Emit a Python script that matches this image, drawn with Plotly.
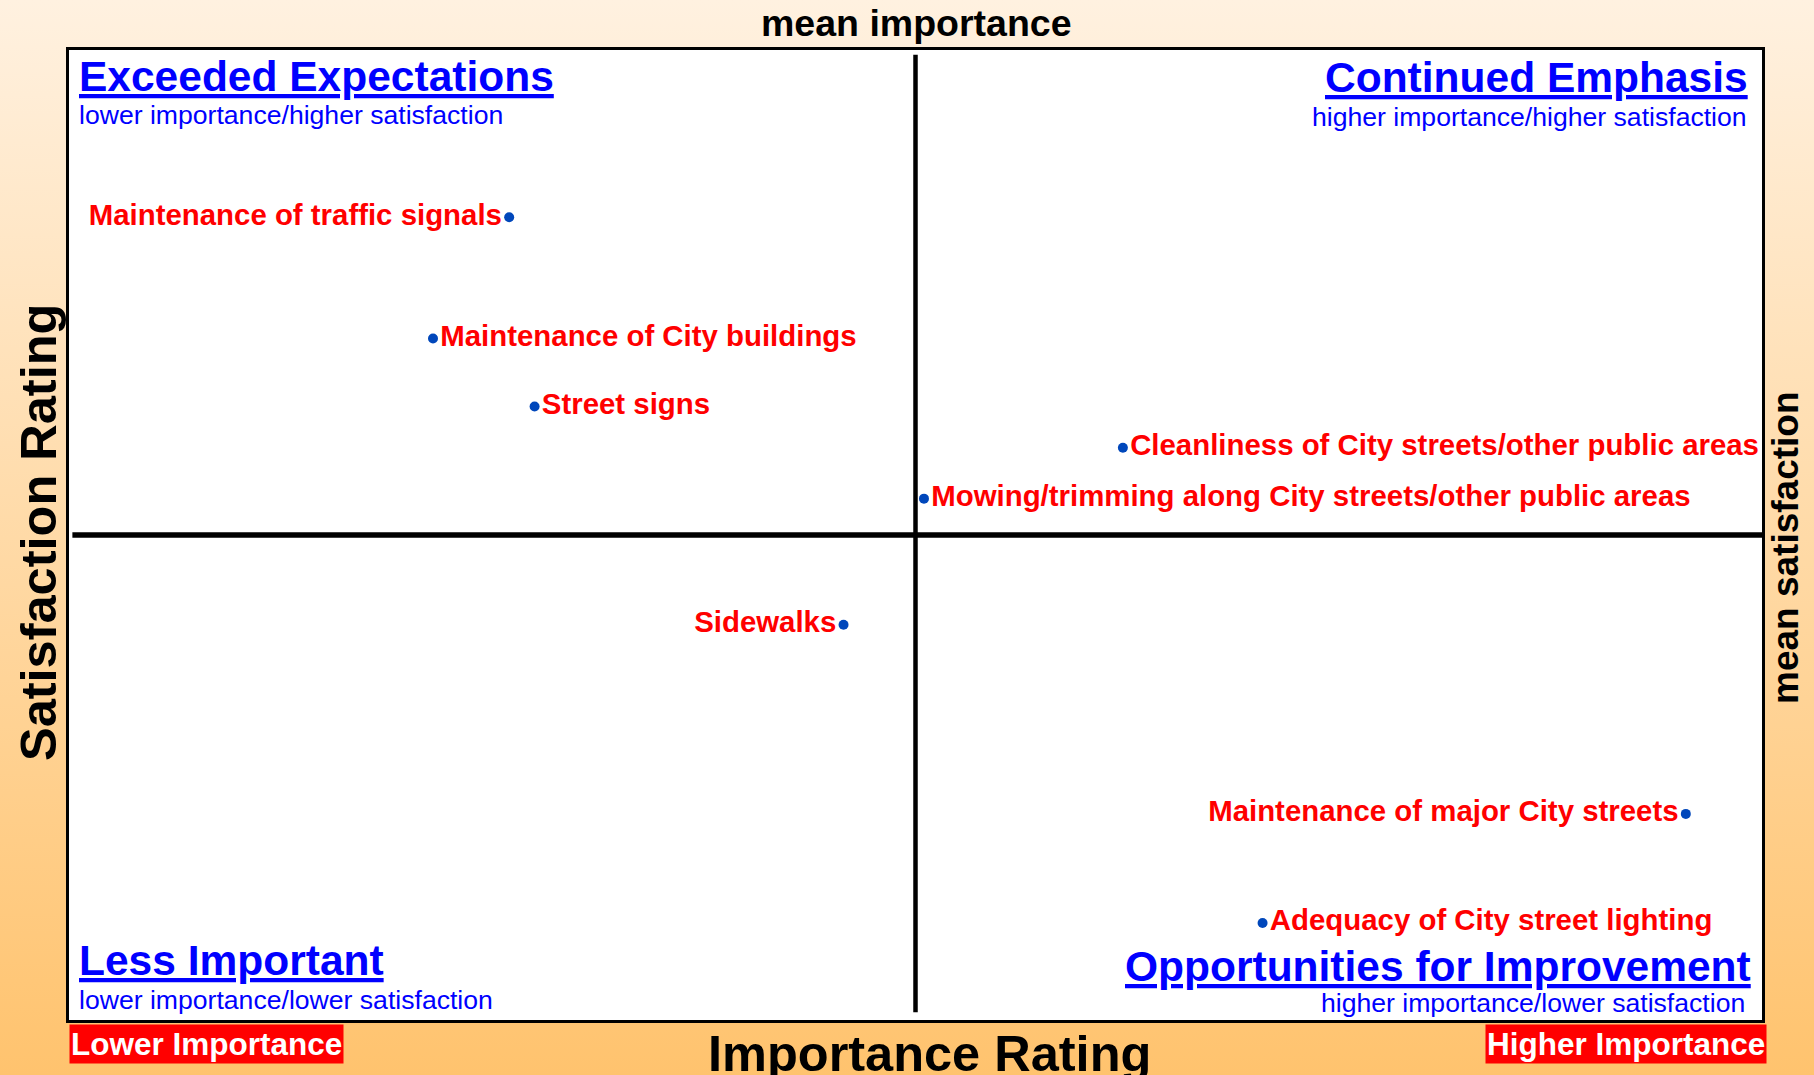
import base64
import plotly.graph_objects as go

# importance (%) vs satisfaction (%) for each service
SERVICES = [
    "Maintenance of traffic signals",
    "Maintenance of City buildings",
    "Street signs",
    "Cleanliness of City streets/other public areas",
    "Mowing/trimming along City streets/other public areas",
    "Sidewalks",
    "Maintenance of major City streets",
    "Adequacy of City street lighting",
]
IMPORTANCE = [15.4, 13.6, 16.0, 29.9, 25.2, 23.3, 43.2, 33.2]
SATISFACTION = [73.1, 68.1, 65.3, 63.6, 61.5, 56.3, 48.5, 44.0]

MEAN_IMPORTANCE = 25.0
MEAN_SATISFACTION = 60.0
X_RANGE = [5, 45]
Y_RANGE = [40, 80]

# label placement relative to the dot
LABEL_SIDE = ["middle left", "middle right", "middle right", "middle right",
              "middle right", "middle left", "middle left", "middle right"]

FONT = "Liberation Sans, Arial, sans-serif"
W, H = 1814, 1075
M = dict(l=69, r=52, t=50, b=55)

# gradient page background as an svg image
svg = (
    f'<svg xmlns="http://www.w3.org/2000/svg" width="{W}" height="{H}" '
    f'preserveAspectRatio="none"><defs><linearGradient id="g" x1="0" y1="0" x2="0" y2="1">'
    '<stop offset="0" stop-color="#FFF1E0"/><stop offset="1" stop-color="#FFC36E"/>'
    f'</linearGradient></defs><rect width="{W}" height="{H}" fill="url(#g)"/></svg>'
)
bg_src = "data:image/svg+xml;base64," + base64.b64encode(svg.encode()).decode()

pw = W - M["l"] - M["r"]
ph = H - M["t"] - M["b"]

fig = go.Figure()
fig.add_trace(go.Scatter(
    x=IMPORTANCE, y=SATISFACTION, text=SERVICES,
    mode="markers+text", textposition=LABEL_SIDE,
    marker=dict(color="#0047BB", size=10),
    textfont=dict(family=FONT, size=29.4, color="#FF0000", weight="bold"),
    cliponaxis=False, hoverinfo="text", showlegend=False,
))

# white plot area on top of the gradient
fig.add_shape(type="rect", xref="paper", yref="paper", x0=0, x1=1, y0=0, y1=1,
              fillcolor="white", line_width=0, layer="below")
fig.add_shape(type="line", xref="x", yref="paper", x0=MEAN_IMPORTANCE, x1=MEAN_IMPORTANCE,
              y0=0.008, y1=0.995, line=dict(color="black", width=4.5))
fig.add_shape(type="line", xref="paper", yref="y", x0=0.002, x1=1, y0=MEAN_SATISFACTION,
              y1=MEAN_SATISFACTION, line=dict(color="black", width=5.5))


def px_x(v):
    return (v - M["l"]) / pw


def px_y(v):
    return (H - M["b"] - v) / ph


def note(text, x, y, size, color="black", xanchor="center", angle=0, bold=True, **kw):
    fig.add_annotation(
        text=text, x=px_x(x), y=px_y(y), xref="paper", yref="paper",
        xanchor=xanchor, yanchor="middle", showarrow=False, textangle=angle,
        font=dict(family=FONT, size=size, color=color, weight="bold" if bold else "normal"),
        **kw,
    )


note("mean importance", 917, 23, 37.5)
note("Importance Rating", 930, 1053, 50.5)
note("Satisfaction Rating", 38, 533, 50.5, angle=-90)
note("mean satisfaction", 1785, 548, 37, angle=-90)
note("Lower Importance", 69, 1044, 31.5, color="white", xanchor="left", bgcolor="#FF0000", borderpad=1)
note("Higher Importance", 1767, 1044, 31.5, color="white", xanchor="right", bgcolor="#FF0000", borderpad=1)

BLUE = "#0000FF"
note("<u>Exceeded Expectations</u>", 77, 76, 42.5, BLUE, "left")
note("lower importance/higher satisfaction", 77, 115, 26.6, BLUE, "left", bold=False)
note("<u>Continued Emphasis</u>", 1750, 77, 42.5, BLUE, "right")
note("higher importance/higher satisfaction", 1749, 117, 26.6, BLUE, "right", bold=False)
note("<u>Less Important</u>", 77, 960, 42.5, BLUE, "left")
note("lower importance/lower satisfaction", 77, 1000, 26.6, BLUE, "left", bold=False)
note("<u>Opportunities for Improvement</u>", 1753, 966, 42.5, BLUE, "right")
note("higher importance/lower satisfaction", 1747, 1003, 26.6, BLUE, "right", bold=False)

fig.add_layout_image(dict(
    source=bg_src, xref="paper", yref="paper", x=-M["l"] / pw, y=1 + M["t"] / ph,
    sizex=W / pw, sizey=H / ph, xanchor="left", yanchor="top",
    sizing="stretch", layer="below",
))

axis = dict(showgrid=False, zeroline=False, showticklabels=False, ticks="",
            showline=True, mirror=True, linecolor="black", linewidth=3, fixedrange=True)
fig.update_xaxes(range=X_RANGE, **axis)
fig.update_yaxes(range=Y_RANGE, **axis)
fig.update_layout(
    width=W, height=H, margin=M,
    paper_bgcolor="#FFD9A8", plot_bgcolor="white",
    font=dict(family=FONT),
)

fig.write_html("out.html", config={"displayModeBar": False},
               post_script="document.body.style.margin='0';")
